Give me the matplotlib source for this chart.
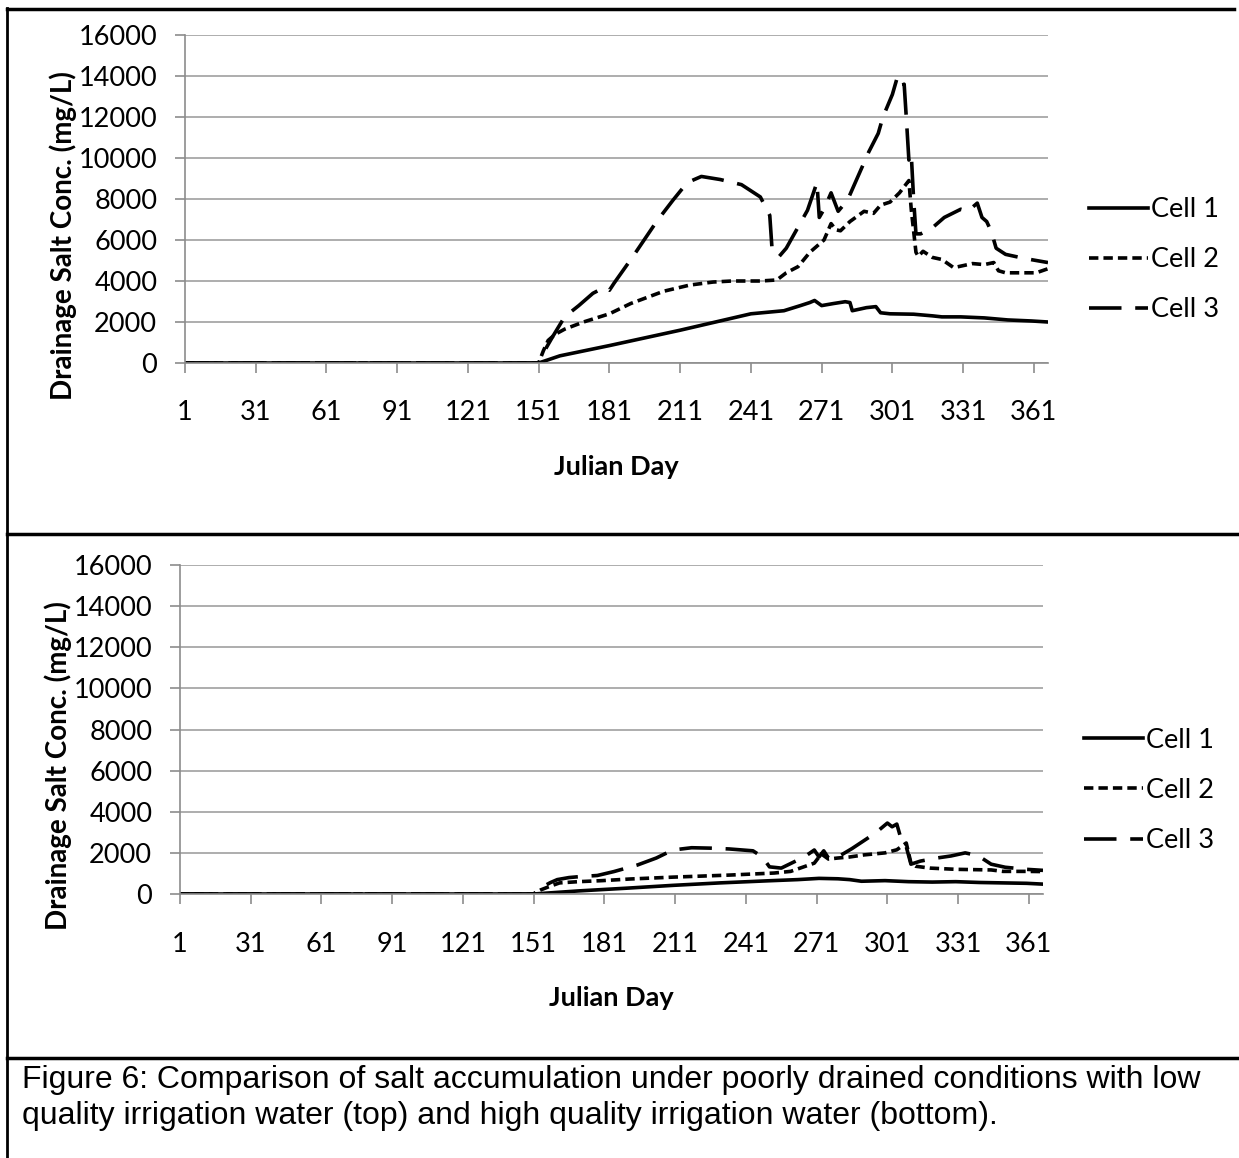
import matplotlib
matplotlib.use("Agg")
import matplotlib.pyplot as plt
from matplotlib.lines import Line2D

plt.rcParams['font.family'] = ['Lato', 'DejaVu Sans']

# top panel: low quality irrigation water
top_c1_day = [1, 151, 160, 181, 211, 241, 255, 262, 266, 268, 271, 276, 281, 283, 284, 290, 294, 296, 300, 310, 318, 322, 330, 340, 350, 360, 367]
top_c1_val = [0, 0, 350, 850, 1600, 2400, 2550, 2800, 2950, 3050, 2800, 2900, 2990, 2950, 2550, 2700, 2750, 2450, 2400, 2380, 2300, 2250, 2250, 2200, 2100, 2050, 2000]

top_c2_day = [1, 151, 153, 155, 158, 162, 170, 181, 190, 204, 215, 225, 233, 245, 252, 256, 261, 266, 272, 275, 277, 279, 283, 289, 293, 296, 300, 304, 308, 309, 311, 312, 314, 318, 322, 327, 335, 340, 344, 346, 349, 355, 362, 367]
top_c2_val = [0, 0, 600, 1100, 1400, 1650, 2000, 2400, 2900, 3500, 3800, 3950, 4000, 4000, 4050, 4400, 4700, 5400, 6000, 6800, 6500, 6450, 6900, 7400, 7300, 7700, 7850, 8300, 8900, 7500, 5400, 5200, 5450, 5150, 5050, 4650, 4850, 4800, 4900, 4500, 4400, 4400, 4400, 4600]

top_c3_day = [1, 151, 154, 157, 162, 168, 174, 179, 181, 183, 191, 201, 208, 214, 220, 228, 237, 245, 249, 250, 253, 256, 265, 269, 270, 272, 275, 278, 282, 291, 295, 297, 301, 303, 304, 306, 307, 308, 309, 310, 311, 313, 318, 323, 330, 333, 337, 339, 341, 343, 345, 349, 357, 362, 367]
top_c3_val = [0, 0, 700, 1300, 2250, 2800, 3400, 3700, 3550, 3900, 5200, 6900, 7950, 8800, 9100, 8950, 8700, 8100, 7200, 5500, 5200, 5600, 7450, 8800, 7100, 7500, 8300, 7400, 7950, 10300, 11200, 12000, 13100, 13900, 13500, 13600, 11800, 9900, 10200, 8000, 6300, 6300, 6600, 7100, 7500, 7400, 7800, 7100, 6900, 6400, 5600, 5300, 5100, 5000, 4900]

# bottom panel: high quality irrigation water
bot_c1_day = [1, 151, 170, 190, 210, 230, 250, 263, 272, 280, 285, 290, 300, 310, 320, 330, 340, 350, 360, 367]
bot_c1_val = [0, 0, 150, 280, 420, 540, 640, 700, 760, 740, 700, 620, 650, 600, 580, 600, 560, 540, 520, 480]

bot_c2_day = [1, 151, 154, 158, 162, 170, 180, 192, 210, 234, 253, 260, 265, 270, 273, 276, 280, 285, 291, 300, 305, 309, 311, 313, 319, 330, 345, 350, 360, 367]
bot_c2_val = [0, 0, 200, 380, 540, 600, 650, 730, 820, 920, 1020, 1100, 1300, 1500, 1950, 1700, 1750, 1800, 1900, 2000, 2150, 2480, 1500, 1350, 1260, 1200, 1170, 1100, 1100, 1090]

bot_c3_day = [1, 151, 155, 158, 161, 166, 171, 178, 185, 195, 203, 210, 218, 226, 234, 244, 248, 251, 256, 263, 267, 270, 272, 274, 276, 280, 286, 296, 301, 303, 305, 307, 309, 311, 315, 322, 328, 334, 338, 341, 345, 351, 360, 367]
bot_c3_val = [0, 0, 360, 550, 700, 800, 850, 900, 1090, 1410, 1750, 2140, 2250, 2230, 2190, 2100, 1800, 1320, 1260, 1650, 1900, 2140, 1800, 2100, 1750, 1800, 2210, 2970, 3450, 3270, 3400, 2600, 2300, 1450, 1600, 1750, 1850, 2000, 1900, 1750, 1450, 1300, 1200, 1150]

labels = ["Cell 1", "Cell 2", "Cell 3"]
xticks = list(range(1, 362, 30))
yticks = list(range(0, 16001, 2000))

caption = ("Figure 6: Comparison of salt accumulation under poorly drained conditions with low\n"
           "quality irrigation water (top) and high quality irrigation water (bottom).")

W, H = 1239, 1158
FS = 19.5
fig = plt.figure(figsize=(W / 100, H / 100), dpi=100)


def px_axes(l, t, r, b):
    return fig.add_axes([l / W, 1 - b / H, (r - l) / W, (b - t) / H])


def draw_panel(ax, series):
    styles = [dict(linestyle='-'),
              dict(linestyle=(0, (2.6, 1.4))),
              dict(linestyle=(0, (9.0, 3.8)))]
    for (d, v), lab, st in zip(series, labels, styles):
        ax.plot(d, v, color='black', linewidth=2.6, label=lab, **st)
    ax.set_xlim(1, 367)
    ax.set_ylim(0, 16000)
    ax.set_xticks(xticks)
    ax.set_yticks(yticks)
    ax.grid(axis='y', color='#a0a0a0', linewidth=1.2)
    ax.set_axisbelow(True)
    for s in ['top', 'right']:
        ax.spines[s].set_visible(False)
    for s in ['left', 'bottom']:
        ax.spines[s].set_color('#8c8c8c')
        ax.spines[s].set_linewidth(1.2)
    ax.tick_params(axis='both', colors='#8c8c8c', length=7, width=1.2, labelsize=FS, labelcolor='black')
    ax.tick_params(axis='y', pad=13)
    ax.tick_params(axis='x', pad=20)
    ax.set_xlabel("Julian Day", fontsize=FS, fontweight='bold', labelpad=21)
    ax.set_ylabel("Drainage Salt Conc. (mg/L)", fontsize=20, fontweight='bold')
    ax.yaxis.set_label_coords(-0.125, 0.39)
    ax.legend(loc='center left', bbox_to_anchor=(1.048, 0.315), frameon=False, fontsize=FS,
              handlelength=2.15, handletextpad=0.12, labelspacing=0.93, borderpad=0, borderaxespad=0)


ax1 = px_axes(185, 35, 1048, 363)
draw_panel(ax1, [(top_c1_day, top_c1_val), (top_c2_day, top_c2_val), (top_c3_day, top_c3_val)])

ax2 = px_axes(180, 565, 1043, 894)
draw_panel(ax2, [(bot_c1_day, bot_c1_val), (bot_c2_day, bot_c2_val), (bot_c3_day, bot_c3_val)])

# table frame around the two charts and the caption
def hline(y, x0, x1, lw=2.5):
    fig.add_artist(Line2D([x0 / W, x1 / W], [1 - y / H, 1 - y / H], color='black', linewidth=lw))


hline(9, 7, 1234)
hline(534, 7, 1239)
hline(1058, 7, 1239)
fig.add_artist(Line2D([7 / W, 7 / W], [1 - 8 / H, 0], color='black', linewidth=2))

fig.text(22 / W, 1 - 1065 / H, caption, fontsize=23, family='Liberation Sans', va='top', ha='left',
         linespacing=1.25)

fig.savefig("out.png", dpi=100)
